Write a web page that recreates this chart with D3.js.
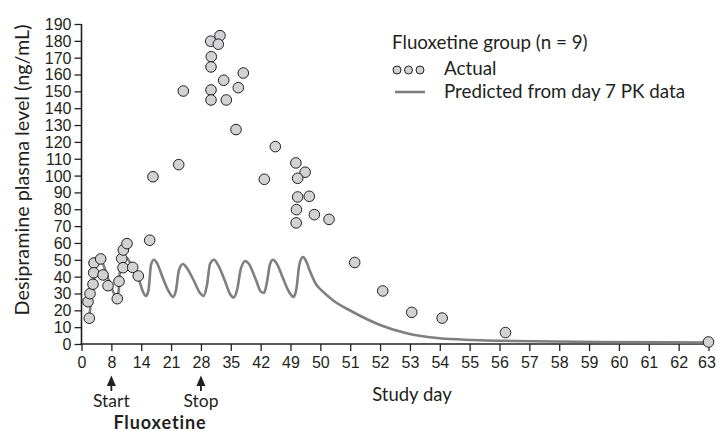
<!DOCTYPE html>
<html>
<head>
<meta charset="utf-8">
<script src="https://cdn.jsdelivr.net/npm/d3@7/dist/d3.min.js"></script>
<style>
  html, body { margin: 0; padding: 0; background: #fff; }
  svg { display: block; font-family: Lato, "Open Sans", sans-serif; }
</style>
</head>
<body>
<svg id="chart" width="716" height="431"></svg>
<script>
// ---- Data ----
const xTicks = [0, 8, 14, 21, 28, 35, 42, 49, 50, 51, 52, 53, 54, 55, 56, 57, 58, 59, 60, 61, 62, 63];
const yTicks = [0,10,20,30,40,50,60,70,80,90,100,110,120,130,140,150,160,170,180,190];

const actualDays = [1.74, 2.09, 2.28, 3.08, 3.35, 3.27, 5.14, 5.76, 7.1, 9.19, 9.54, 10.08, 10.4, 10.34, 11.14, 12.29, 13.41,
  15.99, 16.76, 22.79, 23.87, 30.29, 32.47, 32.07, 30.43, 30.36, 33.34, 37.93, 30.36, 36.76, 30.36, 33.95, 36.22,
  45.44, 42.86, 49.18, 49.49, 49.24, 49.24, 49.63, 49.2, 49.8, 50.29, 49.19, 51.15, 52.09, 53.06, 54.08, 56.2, 63];
const actualValues = [25.1, 15.3, 29.9, 35.5, 48.1, 42.3, 50.5, 41, 34.6, 26.9, 37.2, 50.7, 55.8, 45.3, 59.6, 45.5, 40.4,
  61.6, 99.3, 106.5, 150.2, 179.8, 183.1, 178, 170.6, 164.5, 156.6, 160.9, 150.8, 152.2, 144.9, 144.9, 127.3,
  117.2, 97.8, 107.5, 102, 98.4, 87.3, 87.7, 79.8, 76.8, 74, 71.9, 48.4, 31.5, 18.8, 15.4, 6.8, 1.2];

const predDays = [2.09, 2.81, 3.89, 4.96, 6.03, 7.64, 8.93, 9.44, 9.74, 10.34, 11.14, 12.35, 13.56, 14.42, 15.12, 15.71,
  16.3, 17.0, 17.7, 19.1, 20.5, 21.45, 22.15, 22.86, 23.8, 24.74, 26.38, 27.78, 28.6, 29.42, 30.13, 31.07, 32.0,
  33.64, 34.82, 35.64, 36.46, 37.4, 38.45, 39.27, 40.9, 42.08, 42.8, 43.5, 44.2, 44.9, 45.72, 47.24, 48.65, 49.1,
  49.2, 49.3, 49.42, 49.52, 49.65, 49.85, 50.06, 50.42, 51.09, 52.0, 52.89, 54.0, 55.1, 56.45, 59.4, 63];
const predValues = [16, 30, 46, 51, 46, 36, 28.5, 31, 44, 52, 51, 45, 38, 31, 28.5, 32,
  47, 50, 48, 39, 31, 28, 32, 44, 47.5, 45, 37.4, 30.3, 28.5, 35, 47.5, 50, 47,
  37.4, 29.7, 27.6, 32, 45, 49.3, 47.5, 38, 31, 30.3, 37, 47.5, 50, 48, 39, 31, 28,
  33, 47.5, 51.7, 49.3, 43.3, 35.6, 31.5, 26, 19, 11.3, 6.4, 3.4, 2.4, 1.8, 1.2, 0.9];

// ---- Layout ----
const svg = d3.select("#chart");
const x0 = 81.5, x1 = 708.5, yBottom = 344, yTop = 24;
const step = (x1 - x0) / (xTicks.length - 1);
const x = d3.scaleLinear().domain(xTicks).range(xTicks.map((d, i) => x0 + i * step));
const y = d3.scaleLinear().domain([0, 190]).range([yBottom, yTop]);
const textColor = "#231f20";

// axes
const xAxis = d3.axisBottom(x).tickValues(xTicks).tickFormat(d3.format("d")).tickSize(7).tickSizeOuter(0);
const gx = svg.append("g").attr("transform", `translate(0,${yBottom})`).call(xAxis);
gx.select(".domain").attr("stroke", "#231f20").attr("stroke-width", 1.6).attr("d", `M${x0 - 1},0H${x1 + 2}`);
gx.selectAll(".tick line").attr("stroke", "#231f20").attr("stroke-width", 1.3);
gx.selectAll(".tick text").attr("fill", textColor).attr("font-size", 16).attr("dy", "0").attr("y", 24)
  .attr("dx", (d) => d === 63 ? -2 : 0);

const yAxis = d3.axisLeft(y).tickValues(yTicks).tickSize(7).tickSizeOuter(0);
const gy = svg.append("g").attr("transform", `translate(${x0},0)`).call(yAxis);
gy.select(".domain").attr("stroke", "#231f20").attr("stroke-width", 1.6).attr("d", `M0,${yTop}V${yBottom + 1}`);
gy.selectAll(".tick line").attr("stroke", "#231f20").attr("stroke-width", 1.3);
gy.selectAll(".tick text").attr("fill", textColor).attr("font-size", 16).attr("x", -10).attr("dy", "0.34em");

// predicted line
const line = d3.line().x((d, i) => x(predDays[i])).y((d, i) => y(predValues[i])).curve(d3.curveMonotoneX);
svg.append("path").datum(predDays).attr("d", line)
  .attr("fill", "none").attr("stroke", "#7f7f7f").attr("stroke-width", 2.6).attr("stroke-linejoin", "round");

// actual points
svg.append("g").selectAll("circle").data(actualDays).join("circle")
  .attr("cx", (d) => x(d)).attr("cy", (d, i) => y(actualValues[i])).attr("r", 5.3)
  .attr("fill", "#d1d2d4").attr("stroke", "#231f20").attr("stroke-width", 1);

// axis titles
svg.append("text").attr("transform", "translate(29,170) rotate(-90)").attr("text-anchor", "middle")
  .attr("font-size", 19.8).attr("fill", textColor).text("Desipramine plasma level (ng/mL)");
svg.append("text").attr("x", 412).attr("y", 401).attr("text-anchor", "middle")
  .attr("font-size", 18.5).attr("fill", textColor).text("Study day");

// annotations
function arrow(day) {
  const ax = x(day);
  svg.append("line").attr("x1", ax).attr("x2", ax).attr("y1", 383).attr("y2", 391)
    .attr("stroke", "#231f20").attr("stroke-width", 1.8);
  svg.append("path").attr("d", `M${ax},375.5L${ax - 4.5},386L${ax + 4.5},386Z`).attr("fill", "#231f20");
}
arrow(8); arrow(28);
svg.append("text").attr("x", x(8)).attr("y", 407).attr("text-anchor", "middle")
  .attr("font-size", 17.5).attr("fill", textColor).text("Start");
svg.append("text").attr("x", x(28)).attr("y", 407).attr("text-anchor", "middle")
  .attr("font-size", 17.5).attr("fill", textColor).text("Stop");
svg.append("text").attr("x", 160).attr("y", 428.5).attr("text-anchor", "middle")
  .attr("font-size", 18).attr("font-weight", "bold").attr("letter-spacing", 0.9).attr("fill", textColor).text("Fluoxetine");

// legend
const legendSize = 18.8;
svg.append("text").attr("x", 392).attr("y", 49).attr("font-size", legendSize).attr("fill", textColor)
  .text("Fluoxetine group (n = 9)");
[397, 408.5, 420].forEach((cx) => {
  svg.append("circle").attr("cx", cx).attr("cy", 70).attr("r", 4)
    .attr("fill", "#d1d2d4").attr("stroke", "#231f20").attr("stroke-width", 1);
});
svg.append("text").attr("x", 444).attr("y", 75).attr("font-size", legendSize).attr("fill", textColor).text("Actual");
svg.append("line").attr("x1", 395).attr("x2", 425).attr("y1", 92).attr("y2", 92)
  .attr("stroke", "#7f7f7f").attr("stroke-width", 2.6);
svg.append("text").attr("x", 444).attr("y", 98).attr("font-size", legendSize).attr("fill", textColor)
  .text("Predicted from day 7 PK data");
</script>
</body>
</html>
